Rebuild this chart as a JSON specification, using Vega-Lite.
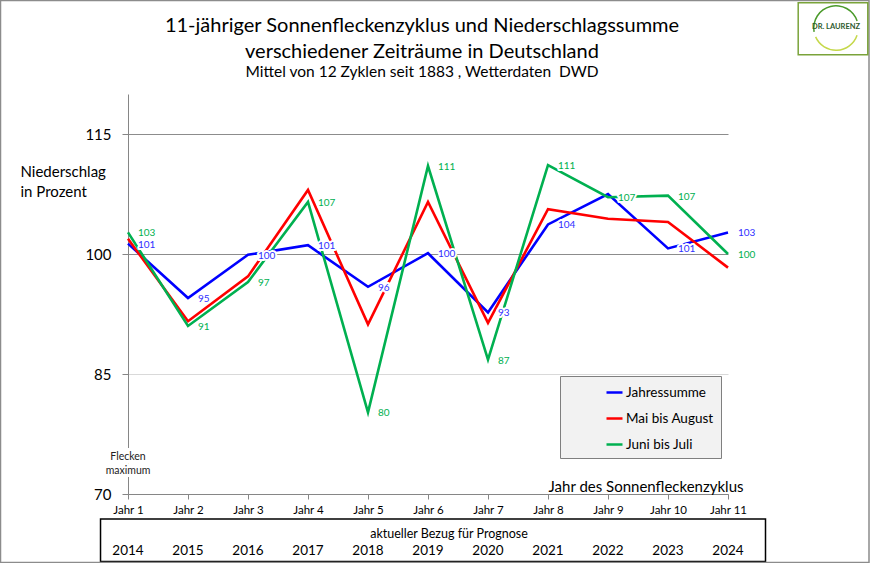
{
  "$schema": "https://vega.github.io/schema/vega-lite/v6.json",
  "width": 600,
  "height": 400,
  "autosize": {"type": "none"},
  "padding": {"left": 128, "top": 94, "right": 142, "bottom": 69},
  "background": "white",
  "config": {
    "view": {"stroke": null},
    "font": "Lato",
    "text": {"font": "Lato"}
  },
  "title": {
    "text": ["11-jähriger Sonnenfleckenzyklus und Niederschlagssumme", "verschiedener Zeiträume in Deutschland"],
    "subtitle": "Mittel von 12 Zyklen seit 1883 , Wetterdaten \u00a0DWD",
    "anchor": "middle",
    "font": "Lato",
    "fontSize": 20,
    "fontWeight": "normal",
    "color": "black",
    "lineHeight": 26,
    "subtitleFont": "Lato",
    "subtitleFontSize": 15.5,
    "subtitleColor": "black",
    "subtitlePadding": 3,
    "offset": 0,
    "dy": 81,
    "dx": -6
  },
  "datasets": {
    "werte": [
      {"jahr": 1, "serie": "Jahressumme", "wert": 101.3, "label": "101"},
      {"jahr": 2, "serie": "Jahressumme", "wert": 94.5, "label": "95"},
      {"jahr": 3, "serie": "Jahressumme", "wert": 99.9, "label": "100"},
      {"jahr": 4, "serie": "Jahressumme", "wert": 101.1, "label": "101"},
      {"jahr": 5, "serie": "Jahressumme", "wert": 95.9, "label": "96"},
      {"jahr": 6, "serie": "Jahressumme", "wert": 100.1, "label": "100"},
      {"jahr": 7, "serie": "Jahressumme", "wert": 92.7, "label": "93"},
      {"jahr": 8, "serie": "Jahressumme", "wert": 103.7, "label": "104"},
      {"jahr": 9, "serie": "Jahressumme", "wert": 107.5, "label": ""},
      {"jahr": 10, "serie": "Jahressumme", "wert": 100.7, "label": "101"},
      {"jahr": 11, "serie": "Jahressumme", "wert": 102.7, "label": "103"},
      {"jahr": 1, "serie": "Mai bis August", "wert": 101.9, "label": ""},
      {"jahr": 2, "serie": "Mai bis August", "wert": 91.6, "label": ""},
      {"jahr": 3, "serie": "Mai bis August", "wert": 97.2, "label": ""},
      {"jahr": 4, "serie": "Mai bis August", "wert": 108.0, "label": ""},
      {"jahr": 5, "serie": "Mai bis August", "wert": 91.2, "label": ""},
      {"jahr": 6, "serie": "Mai bis August", "wert": 106.5, "label": ""},
      {"jahr": 7, "serie": "Mai bis August", "wert": 91.4, "label": ""},
      {"jahr": 8, "serie": "Mai bis August", "wert": 105.6, "label": ""},
      {"jahr": 9, "serie": "Mai bis August", "wert": 104.4, "label": ""},
      {"jahr": 10, "serie": "Mai bis August", "wert": 104.0, "label": ""},
      {"jahr": 11, "serie": "Mai bis August", "wert": 98.3, "label": ""},
      {"jahr": 1, "serie": "Juni bis Juli", "wert": 102.7, "label": "103"},
      {"jahr": 2, "serie": "Juni bis Juli", "wert": 91.0, "label": "91"},
      {"jahr": 3, "serie": "Juni bis Juli", "wert": 96.5, "label": "97"},
      {"jahr": 4, "serie": "Juni bis Juli", "wert": 106.5, "label": "107"},
      {"jahr": 5, "serie": "Juni bis Juli", "wert": 80.2, "label": "80"},
      {"jahr": 6, "serie": "Juni bis Juli", "wert": 111.0, "label": "111"},
      {"jahr": 7, "serie": "Juni bis Juli", "wert": 86.8, "label": "87"},
      {"jahr": 8, "serie": "Juni bis Juli", "wert": 111.1, "label": "111"},
      {"jahr": 9, "serie": "Juni bis Juli", "wert": 107.1, "label": "107"},
      {"jahr": 10, "serie": "Juni bis Juli", "wert": 107.3, "label": "107"},
      {"jahr": 11, "serie": "Juni bis Juli", "wert": 100.0, "label": "100"}
    ],
    "bezug": [
      {"jahr": 1, "jahrzahl": "2014"},
      {"jahr": 2, "jahrzahl": "2015"},
      {"jahr": 3, "jahrzahl": "2016"},
      {"jahr": 4, "jahrzahl": "2017"},
      {"jahr": 5, "jahrzahl": "2018"},
      {"jahr": 6, "jahrzahl": "2019"},
      {"jahr": 7, "jahrzahl": "2020"},
      {"jahr": 8, "jahrzahl": "2021"},
      {"jahr": 9, "jahrzahl": "2022"},
      {"jahr": 10, "jahrzahl": "2023"},
      {"jahr": 11, "jahrzahl": "2024"}
    ]
  },
  "layer": [
    {
      "data": {"name": "werte"},
      "mark": {"type": "line", "strokeWidth": 2.6},
      "encoding": {
        "x": {
          "field": "jahr", "type": "quantitative",
          "scale": {"domain": [1, 11], "nice": false, "zero": false},
          "axis": {
            "values": [1, 2, 3, 4, 5, 6, 7, 8, 9, 10, 11],
            "labelExpr": "'Jahr ' + datum.value",
            "grid": false,
            "domainColor": "#868686",
            "tickColor": "#868686",
            "tickSize": 5,
            "labelFont": "Lato",
            "labelFontSize": 11.5,
            "labelColor": "black",
            "labelPadding": 5,
            "labelFlush": false,
            "title": "Jahr des Sonnenfleckenzyklus",
            "titleFont": "Lato",
            "titleFontSize": 15,
            "titleFontWeight": "normal",
            "titleColor": "black",
            "titleAlign": "right",
            "titleBaseline": "middle",
            "titleX": 615,
            "titleY": -8
          }
        },
        "y": {
          "field": "wert", "type": "quantitative",
          "scale": {"domain": [70, 120], "nice": false, "zero": false},
          "axis": {
            "values": [70, 85, 100, 115],
            "grid": true,
            "gridColor": {"condition": {"test": "datum.value === 85", "value": "#d9d9d9"}, "value": "#8c8c8c"},
            "domainColor": "#868686",
            "tickColor": "#868686",
            "tickSize": 6,
            "labelFont": "Lato",
            "labelFontSize": 15,
            "labelColor": "black",
            "labelPadding": 11,
            "title": ["Niederschlag", "in Prozent"],
            "titleFont": "Lato",
            "titleFontSize": 15,
            "titleFontWeight": "normal",
            "titleColor": "black",
            "titleAngle": 0,
            "titleAlign": "left",
            "titleBaseline": "alphabetic",
            "titleLineHeight": 20,
            "titleX": -108,
            "titleY": 82
          }
        },
        "color": {
          "field": "serie", "type": "nominal",
          "scale": {"domain": ["Jahressumme", "Mai bis August", "Juni bis Juli"], "range": ["#0000ff", "#ff0000", "#00b050"]},
          "legend": {
            "orient": "none",
            "legendX": 432,
            "legendY": 282,
            "title": null,
            "fillColor": "#f2f2f2",
            "strokeColor": "#7f7f7f",
            "padding": 7,
            "symbolType": "stroke",
            "symbolStrokeWidth": 2.5,
            "symbolSize": 256,
            "symbolOffset": 38,
            "labelOffset": 2,
            "labelFont": "Lato",
            "labelFontSize": 13.5,
            "labelColor": "black",
            "rowPadding": 10,
            "labelExpr": "datum.label + '\u00a0\u00a0\u00a0\u00a0\u00a0\u00a0\u00a0\u00a0\u00a0\u00a0\u00a0\u00a0\u00a0\u00a0\u00a0\u00a0'"
          }
        }
      }
    },
    {
      "data": {"name": "werte"},
      "transform": [{"filter": "datum.label != ''"}],
      "mark": {"type": "text", "align": "left", "baseline": "middle", "dx": 10, "dy": 1, "fontSize": 10, "font": "Lato", "stroke": "white", "strokeWidth": 4, "strokeJoin": "round", "fill": "white"},
      "encoding": {
        "x": {"field": "jahr", "type": "quantitative"},
        "y": {"field": "wert", "type": "quantitative"},
        "text": {"field": "label"}
      }
    },
    {
      "data": {"name": "werte"},
      "transform": [{"filter": "datum.label != ''"}],
      "mark": {"type": "text", "align": "left", "baseline": "middle", "dx": 10, "dy": 1, "fontSize": 10, "font": "Lato"},
      "encoding": {
        "x": {"field": "jahr", "type": "quantitative"},
        "y": {"field": "wert", "type": "quantitative"},
        "text": {"field": "label"},
        "color": {"condition": {"test": "datum.serie === 'Jahressumme'", "value": "#3030ff"}, "value": "#00b050"}
      }
    },
    {
      "data": {"values": [{"t": "Flecken\nmaximum"}]},
      "mark": {"type": "text", "align": "center", "baseline": "middle", "lineBreak": "\n", "lineHeight": 14, "fontSize": 10.5, "font": "Lato", "stroke": "white", "strokeWidth": 6, "fill": "white"},
      "encoding": {
        "x": {"datum": 1, "type": "quantitative"},
        "y": {"datum": 74.6, "type": "quantitative"},
        "text": {"field": "t"}
      }
    },
    {
      "data": {"values": [{"t": "Flecken\nmaximum"}]},
      "mark": {"type": "text", "align": "center", "baseline": "middle", "lineBreak": "\n", "lineHeight": 14, "fontSize": 10.5, "font": "Lato", "color": "#222222"},
      "encoding": {
        "x": {"datum": 1, "type": "quantitative"},
        "y": {"datum": 74.6, "type": "quantitative"},
        "text": {"field": "t"}
      }
    },
    {
      "data": {"values": [{}]},
      "mark": {"type": "rect", "fill": null, "stroke": "black", "strokeWidth": 1.5},
      "encoding": {
        "x": {"datum": 0.542, "type": "quantitative"},
        "x2": {"datum": 11.625},
        "y": {"datum": 66.875, "type": "quantitative"},
        "y2": {"datum": 61.55}
      }
    },
    {
      "data": {"values": [{"t": "aktueller Bezug für Prognose"}]},
      "mark": {"type": "text", "align": "center", "baseline": "middle", "fontSize": 12.5, "font": "Lato", "color": "black"},
      "encoding": {
        "x": {"datum": 6.35, "type": "quantitative"},
        "y": {"datum": 65, "type": "quantitative"},
        "text": {"field": "t"}
      }
    },
    {
      "data": {"name": "bezug"},
      "mark": {"type": "text", "align": "center", "baseline": "middle", "fontSize": 13.5, "font": "Lato", "color": "black"},
      "encoding": {
        "x": {"field": "jahr", "type": "quantitative"},
        "y": {"datum": 62.9, "type": "quantitative"},
        "text": {"field": "jahrzahl"}
      }
    },
    {
      "data": {"values": [{}]},
      "mark": {"type": "rect", "fill": null, "stroke": "#8c8c8c", "strokeWidth": 1.5},
      "encoding": {
        "x": {"datum": -1.125, "type": "quantitative"},
        "x2": {"datum": 13.35},
        "y": {"datum": 131.68, "type": "quantitative"},
        "y2": {"datum": 61.45}
      }
    },
    {
      "data": {"values": [{}]},
      "mark": {"type": "rect", "fill": "white", "stroke": "#7aa33a", "strokeWidth": 1.5},
      "encoding": {
        "x": {"datum": 12.17, "type": "quantitative"},
        "x2": {"datum": 13.33},
        "y": {"datum": 131.4, "type": "quantitative"},
        "y2": {"datum": 124.9}
      }
    },
    {
      "data": {"values": [{}]},
      "mark": {"type": "arc", "radius": 23, "radius2": 21.5, "theta": -1.75, "theta2": 1.25, "color": "#4a9a2a"},
      "encoding": {
        "x": {"datum": 12.8, "type": "quantitative"},
        "y": {"datum": 128.25, "type": "quantitative"}
      }
    },
    {
      "data": {"values": [{}]},
      "mark": {"type": "arc", "radius": 23, "radius2": 21.5, "theta": 1.9, "theta2": 4.3, "color": "#c5d84a"},
      "encoding": {
        "x": {"datum": 12.8, "type": "quantitative"},
        "y": {"datum": 128.25, "type": "quantitative"}
      }
    },
    {
      "data": {"values": [{"t": "DR. LAURENZ"}]},
      "mark": {"type": "text", "align": "center", "baseline": "middle", "fontSize": 7.5, "font": "Lato", "fontWeight": "bold", "color": "#2e5a2e"},
      "encoding": {
        "x": {"datum": 12.8, "type": "quantitative"},
        "y": {"datum": 128.4, "type": "quantitative"},
        "text": {"field": "t"}
      }
    }
  ]
}
